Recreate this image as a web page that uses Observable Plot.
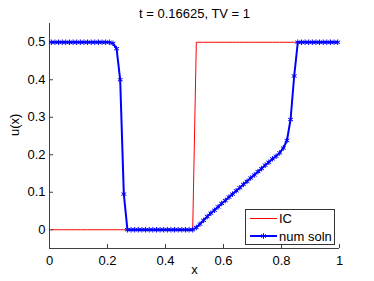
<!DOCTYPE html>
<html>
<head>
<meta charset="utf-8">
<script src="https://cdn.jsdelivr.net/npm/d3@7"></script>
<script src="https://cdn.jsdelivr.net/npm/@observablehq/plot@0.6"></script>
<style>
  html, body { margin: 0; padding: 0; background: #fff; }
</style>
</head>
<body>
<div id="chart"></div>
<script>
const titleText = "t = 0.16625, TV = 1";
const xLabel = "x";
const yLabel = "u(x)";
const legendLabels = ["IC", "num soln"];

const xTicks = [0, 0.2, 0.4, 0.6, 0.8, 1];
const yTicks = [0, 0.1, 0.2, 0.3, 0.4, 0.5];

// cell centres
const xs = [
  0.00625, 0.01875, 0.03125, 0.04375, 0.05625, 0.06875, 0.08125, 0.09375, 0.10625, 0.11875,
  0.13125, 0.14375, 0.15625, 0.16875, 0.18125, 0.19375, 0.20625, 0.21875, 0.23125, 0.24375,
  0.25625, 0.26875, 0.28125, 0.29375, 0.30625, 0.31875, 0.33125, 0.34375, 0.35625, 0.36875,
  0.38125, 0.39375, 0.40625, 0.41875, 0.43125, 0.44375, 0.45625, 0.46875, 0.48125, 0.49375,
  0.50625, 0.51875, 0.53125, 0.54375, 0.55625, 0.56875, 0.58125, 0.59375, 0.60625, 0.61875,
  0.63125, 0.64375, 0.65625, 0.66875, 0.68125, 0.69375, 0.70625, 0.71875, 0.73125, 0.74375,
  0.75625, 0.76875, 0.78125, 0.79375, 0.80625, 0.81875, 0.83125, 0.84375, 0.85625, 0.86875,
  0.88125, 0.89375, 0.90625, 0.91875, 0.93125, 0.94375, 0.95625, 0.96875, 0.98125, 0.99375
];

// initial condition
const icU = [
  0, 0, 0, 0, 0, 0, 0, 0, 0, 0,
  0, 0, 0, 0, 0, 0, 0, 0, 0, 0,
  0, 0, 0, 0, 0, 0, 0, 0, 0, 0,
  0, 0, 0, 0, 0, 0, 0, 0, 0, 0,
  0.5, 0.5, 0.5, 0.5, 0.5, 0.5, 0.5, 0.5, 0.5, 0.5,
  0.5, 0.5, 0.5, 0.5, 0.5, 0.5, 0.5, 0.5, 0.5, 0.5,
  0.5, 0.5, 0.5, 0.5, 0.5, 0.5, 0.5, 0.5, 0.5, 0.5,
  0.5, 0.5, 0.5, 0.5, 0.5, 0.5, 0.5, 0.5, 0.5, 0.5
];

// numerical solution
const numU = [
  0.5, 0.5, 0.5, 0.5, 0.5, 0.5, 0.5, 0.5, 0.5, 0.5,
  0.5, 0.5, 0.5, 0.5, 0.5, 0.5, 0.5, 0.497, 0.483, 0.40,
  0.095, 0, 0, 0, 0, 0, 0, 0, 0, 0,
  0, 0, 0, 0, 0, 0, 0, 0, 0, 0,
  0.006, 0.015, 0.025, 0.035, 0.044, 0.052, 0.061, 0.070, 0.078, 0.087,
  0.095, 0.104, 0.112, 0.121, 0.129, 0.138, 0.146, 0.155, 0.163, 0.172,
  0.180, 0.189, 0.196, 0.205, 0.218, 0.238, 0.294, 0.41, 0.5, 0.5,
  0.5, 0.5, 0.5, 0.5, 0.5, 0.5, 0.5, 0.5, 0.5, 0.5
];

const icData = xs.map((x, i) => ({x, u: icU[i]}));
const numData = xs.map((x, i) => ({x, u: numU[i]}));

const axisColor = "#404040";
const font = "'Liberation Sans', Arial, Helvetica, sans-serif";
const fmt = d => String(d);

const chart = Plot.plot({
  width: 374,
  height: 281,
  marginLeft: 49,
  marginRight: 35,
  marginTop: 23,
  marginBottom: 33,
  style: {fontFamily: font, fontSize: "13px", background: "#fff", color: "#000", overflow: "visible"},
  x: {domain: [0, 1]},
  y: {domain: [-0.05, 0.55]},
  marks: [
    Plot.ruleX([0], {stroke: axisColor}),
    Plot.ruleY([-0.05], {stroke: axisColor}),
    Plot.axisX({ticks: xTicks, tickFormat: fmt, tickSize: -4, tickPadding: 11, stroke: axisColor, fill: "#000", label: null}),
    Plot.axisY({ticks: yTicks, tickFormat: fmt, tickSize: -4, tickPadding: 8, stroke: axisColor, fill: "#000", label: null}),
    Plot.line(icData, {x: "x", y: "u", stroke: "#ff0000", strokeWidth: 1}),
    Plot.line(numData, {x: "x", y: "u", stroke: "#0000ff", strokeWidth: 2}),
    Plot.dot(numData, {x: "x", y: "u", symbol: "asterisk", r: 2.6, stroke: "#0000ff", strokeWidth: 1}),
    Plot.text([titleText], {frameAnchor: "top", dy: -15, text: d => d, fill: "#000"}),
    Plot.text([xLabel], {frameAnchor: "bottom", dy: 25, text: d => d, fill: "#000"}),
    Plot.text([yLabel], {frameAnchor: "left", dx: -35, rotate: -90, text: d => d, fill: "#000"})
  ]
});

// legend inside the axes (lower right)
const svg = d3.select(chart);
const lg = svg.append("g").attr("font-family", font).attr("font-size", 13).attr("text-anchor", "start");
lg.append("rect").attr("x", 245.5).attr("y", 209.5).attr("width", 89).attr("height", 35)
  .attr("fill", "#fff").attr("stroke", "#333").attr("stroke-width", 1);
lg.append("line").attr("x1", 250).attr("x2", 277).attr("y1", 218.5).attr("y2", 218.5)
  .attr("stroke", "#ff0000").attr("stroke-width", 1);
lg.append("text").attr("x", 279).attr("y", 223).attr("fill", "#000").text(legendLabels[0]);
lg.append("line").attr("x1", 250).attr("x2", 277).attr("y1", 236).attr("y2", 236)
  .attr("stroke", "#0000ff").attr("stroke-width", 2);
lg.append("path").attr("transform", "translate(263.5,236)")
  .attr("d", d3.symbol(d3.symbolAsterisk, Math.PI * 2.6 * 2.6)())
  .attr("fill", "none").attr("stroke", "#0000ff").attr("stroke-width", 1);
lg.append("text").attr("x", 279).attr("y", 240.5).attr("fill", "#000").text(legendLabels[1]);

document.getElementById("chart").appendChild(chart);
</script>
</body>
</html>
